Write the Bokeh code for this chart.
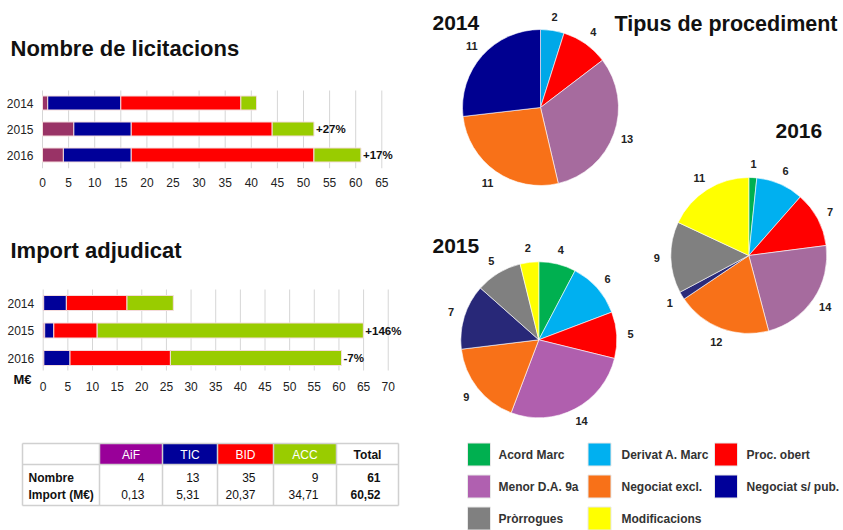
import numpy as np
from bokeh.plotting import figure
from bokeh.layouts import row, column
from bokeh.models import Range1d, FixedTicker, ColumnDataSource
from bokeh.core.properties import value
from bokeh.embed import file_html
from bokeh.resources import INLINE

FONT = "Liberation Sans"

# ---------------- data ----------------
years = ["2014", "2015", "2016"]
groups = ["AiF", "TIC", "BID", "ACC"]
bar_colors = ["#993366", "#000099", "#ff0000", "#99cc00"]

count_aif = [1, 6, 4]
count_tic = [14, 11, 13]
count_bid = [23, 27, 35]
count_acc = [3, 8, 9]
count_change = ["", "+27%", "+17%"]
count_ticks = list(range(0, 70, 5))

import_aif = [0.1, 0.3, 0.13]
import_tic = [4.6, 1.85, 5.31]
import_bid = [12.3, 8.8, 20.37]
import_acc = [9.4, 54.0, 34.71]
import_change = ["", "+146%", "-7%"]
import_ticks = list(range(0, 75, 5))

table_cols = ["AiF", "TIC", "BID", "ACC", "Total"]
table_header_colors = ["#990099", "#000099", "#ff0000", "#99cc00", "#ffffff"]
table_rows = ["Nombre", "Import (M€)"]
table_nombre = ["4", "13", "35", "9", "61"]
table_import = ["0,13", "5,31", "20,37", "34,71", "60,52"]

proc_names = ["Acord Marc", "Derivat A. Marc", "Proc. obert", "Menor D.A. 9a",
              "Negociat excl.", "Negociat s/ pub.", "Pròrrogues", "Modificacions"]
proc_colors = ["#00b050", "#00b0f0", "#ff0000", "#b060b0",
               "#f87118", "#000099", "#808080", "#ffff00"]
pie_2014 = [0, 2, 4, 13, 11, 11, 0, 0]
pie_2015 = [4, 6, 5, 14, 9, 7, 5, 2]
pie_2016 = [1, 6, 7, 14, 12, 1, 9, 11]
pie_colors_2014 = ["#00b050", "#00a8e8", "#ff0000", "#a66b9e", "#f87118", "#000090", "#808080", "#ffff00"]
pie_colors_2015 = ["#00b050", "#00b0f0", "#ff0000", "#b05fae", "#f87118", "#282878", "#808080", "#ffff00"]
pie_colors_2016 = ["#00b050", "#00b0f0", "#ff0000", "#a66b9e", "#f87118", "#2b2b7a", "#808080", "#ffff00"]

TXT = "#111111"


# ---------------- bar charts ----------------
def bar_chart(title, aif, tic, bid, acc, change, ticks, height, y_top, y_frame_bottom,
              x_zero, px_per_unit, bar_y0, bar_step, bar_h, grid_top, grid_bottom,
              title_y, std):
    x_start = -x_zero / px_per_unit
    x_end = x_start + 420 / px_per_unit
    p = figure(width=420, height=height, output_backend="svg", toolbar_location=None,
               x_range=Range1d(x_start, x_end),
               y_range=Range1d(y_frame_bottom, y_top),
               y_axis_location=None,
               min_border_left=0, min_border_right=0, min_border_top=0,
               min_border_bottom=height - (y_frame_bottom - y_top))
    ypos = [bar_y0 + bar_step * i for i in range(len(years))]
    src = ColumnDataSource(dict(y=ypos, AiF=aif, TIC=tic, BID=bid, ACC=acc))
    p.segment(x0=ticks, y0=grid_top, x1=ticks, y1=grid_bottom, line_color="#d6d6d6",
              line_width=1)
    p.hbar_stack(groups, y="y", height=bar_h, color=bar_colors, source=src,
                 line_color="#f4dcdc", line_width=1)
    totals = [a + b + c + d for a, b, c, d in zip(aif, tic, bid, acc)]
    p.text(x=totals, y=ypos, text=change, x_offset=2, text_baseline="middle",
           text_align="left", text_font=value(FONT), text_font_size="11.5px",
           text_font_style="bold", text_color=TXT)
    p.text(x=0, y=ypos, text=years, x_offset=-9, text_baseline="middle",
           text_align="right", text_font=value(FONT), text_font_size="12px",
           text_color="#222222")
    p.text(x=0, y=[title_y], text=[title], x_offset=10 - x_zero, text_baseline="middle",
           text_align="left", text_font=value(FONT), text_font_size="22px",
           text_font_style="bold", text_color=TXT)
    p.xaxis.ticker = FixedTicker(ticks=ticks)
    p.grid.grid_line_color = None
    p.outline_line_color = None
    ax = p.xaxis[0]
    ax.axis_line_color = None
    ax.major_tick_line_color = None
    ax.minor_tick_line_color = None
    ax.major_tick_in = 0
    ax.major_tick_out = 0
    ax.minor_tick_in = 0
    ax.minor_tick_out = 0
    ax.major_label_text_font = FONT
    ax.major_label_text_font_size = "12px"
    ax.major_label_text_color = "#222222"
    ax.major_label_standoff = std
    return p


p1 = bar_chart("Nombre de licitacions", count_aif, count_tic, count_bid, count_acc,
               count_change, count_ticks, 200, 0, 168, 42.0, 5.22,
               102.5, 26, 14, 90, 168, 48, 9)
p2 = bar_chart("Import adjudicat", import_aif, import_tic, import_bid, import_acc,
               import_change, import_ticks, 230, 200, 386, 42.7, 4.929,
               302.5, 27.5, 15, 289, 370, 250, -5)
p2.text(x=0, y=[379], text=["M€"], x_offset=13 - 42.7, text_baseline="middle",
        text_align="left", text_font=value(FONT), text_font_size="13px",
        text_font_style="bold", text_color=TXT)

# ---------------- table ----------------
tf = figure(width=420, height=100, output_backend="svg", toolbar_location=None,
            x_range=Range1d(0, 420), y_range=Range1d(530, 430),
            x_axis_location=None, y_axis_location=None, min_border=0)
tf.grid.grid_line_color = None
tf.outline_line_color = None
edges = [22, 99, 162, 217, 273, 336, 398]
h_top, h_bot, b_bot = 443, 464, 505
tf.quad(left=edges[1:-1], right=edges[2:], top=h_top, bottom=h_bot,
        fill_color=table_header_colors, line_color=None)
tf.segment(x0=edges, y0=h_top, x1=edges, y1=b_bot, line_color="#d0d0d0", line_width=1.5)
tf.segment(x0=edges[0], y0=[h_top, h_bot, b_bot], x1=edges[-1], y1=[h_top, h_bot, b_bot],
           line_color="#d0d0d0", line_width=1.5)
centers = [(a + b) / 2 for a, b in zip(edges[1:-1], edges[2:])]
tf.text(x=centers[:-1], y=454, text=table_cols[:-1], text_align="center",
        text_baseline="middle", text_font=value(FONT), text_font_size="12px",
        text_color="#ffffff")
tf.text(x=centers[-1:], y=454, text=table_cols[-1:], text_align="center",
        text_baseline="middle", text_font=value(FONT), text_font_size="12px",
        text_font_style="bold", text_color=TXT)
tf.text(x=28, y=[477, 494], text=table_rows, text_align="left", text_baseline="middle",
        text_font=value(FONT), text_font_size="12px", text_font_style="bold",
        text_color=TXT)
rights = [e - 18 for e in edges[2:]]
for vals, yy in ((table_nombre, 477), (table_import, 494)):
    tf.text(x=rights[:-1], y=yy, text=vals[:-1], text_align="right", text_baseline="middle",
            text_font=value(FONT), text_font_size="12px", text_color=TXT)
    tf.text(x=rights[-1:], y=yy, text=vals[-1:], text_align="right", text_baseline="middle",
            text_font=value(FONT), text_font_size="12px", text_font_style="bold",
            text_color=TXT)

# ---------------- pies (y measured upward: 530 - page y) ----------------
pf = figure(width=423, height=530, output_backend="svg", toolbar_location=None,
            x_range=Range1d(420, 843), y_range=Range1d(0, 530),
            x_axis_location=None, y_axis_location=None, min_border=0)
pf.grid.grid_line_color = None
pf.outline_line_color = None

R = 78
RL = 92


def pie(vals, colors, cx, cy):
    v = np.array(vals, dtype=float)
    keep = v > 0
    tot = v.sum()
    cum = np.cumsum(v)
    f0 = (cum - v) / tot
    f1 = cum / tot
    start = np.pi / 2 - 2 * np.pi * f1
    end = np.pi / 2 - 2 * np.pi * f0
    cols = [c for c, k in zip(colors, keep) if k]
    pf.wedge(x=cx, y=cy, radius=R, start_angle=start[keep], end_angle=end[keep],
             fill_color=cols, line_color="white", line_width=0.6)
    mid = (f0 + f1) * np.pi
    lx = cx + RL * np.sin(mid[keep])
    ly = cy + RL * np.cos(mid[keep])
    labels = [str(int(x)) for x in v[keep]]
    pf.text(x=lx, y=ly, text=labels, text_align="center", text_baseline="middle",
            text_font=value(FONT), text_font_size="11px", text_font_style="bold",
            text_color="#222222")


pie(pie_2014, pie_colors_2014, 540, 423)
pie(pie_2015, pie_colors_2015, 538.3, 190.7)
pie(pie_2016, pie_colors_2016, 748.3, 275)

pf.text(x=[432, 432, 775], y=[508, 285, 400], text=["2014", "2015", "2016"],
        text_align="left", text_baseline="middle", text_font=value(FONT),
        text_font_size="21px", text_font_style="bold", text_color=TXT)
pf.text(x=[614], y=[507], text=["Tipus de procediment"], text_align="left",
        text_baseline="middle", text_font=value(FONT), text_font_size="21.5px",
        text_font_style="bold", text_color=TXT)

# legend
sq_x = [478.5, 599, 725.5]
tx_x = [498, 621, 746]
row_y = [530 - 454, 530 - 486, 530 - 518]
lx = [sq_x[i % 3] for i in range(len(proc_names))]
ly = [row_y[i // 3] for i in range(len(proc_names))]
tx = [tx_x[i % 3] for i in range(len(proc_names))]
pf.rect(x=lx, y=ly, width=23, height=23, fill_color=proc_colors, line_color="#e8e8e8",
        line_width=1)
pf.text(x=tx, y=ly, text=proc_names, text_align="left", text_baseline="middle",
        text_font=value(FONT), text_font_size="12px", text_font_style="bold",
        text_color="#333333")

layout = row(column(p1, p2, tf), pf)
open("out.html", "w").write(file_html(layout, INLINE))
